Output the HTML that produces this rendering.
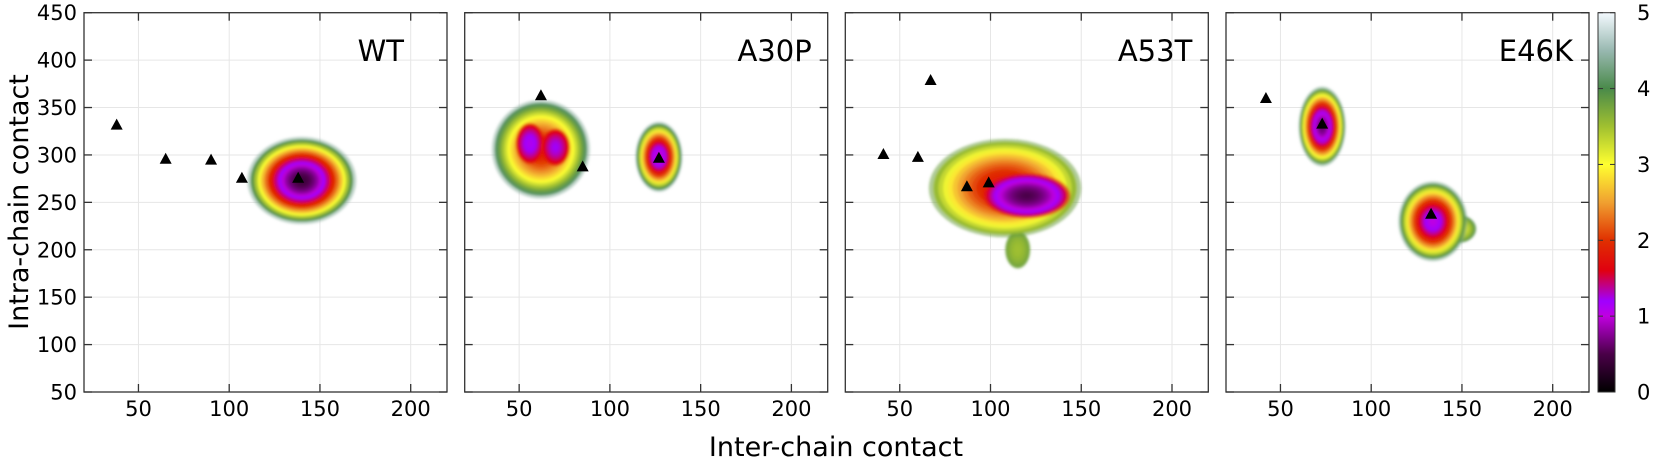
<!DOCTYPE html>
<html><head><meta charset="utf-8">
<style>
html,body{margin:0;padding:0;background:#fff;}
svg{display:block;font-family:"DejaVu Sans","Liberation Sans",sans-serif;}
</style></head>
<body>
<svg id="chart" width="1655" height="459" viewBox="0 0 1655 459" xmlns="http://www.w3.org/2000/svg">
<defs>
<filter id="soft" x="-20%" y="-20%" width="140%" height="140%"><feGaussianBlur stdDeviation="1.2"/></filter>
<linearGradient id="cmap" x1="0" y1="1" x2="0" y2="0">
<stop offset="0" stop-color="#000000"/>
<stop offset="0.1" stop-color="#4a0048"/>
<stop offset="0.2" stop-color="#c000e0"/>
<stop offset="0.24" stop-color="#a000ff"/>
<stop offset="0.32" stop-color="#e00010"/>
<stop offset="0.4" stop-color="#e03000"/>
<stop offset="0.5" stop-color="#f0a030"/>
<stop offset="0.6" stop-color="#ffff30"/>
<stop offset="0.7" stop-color="#a0c030"/>
<stop offset="0.8" stop-color="#4a8a4a"/>
<stop offset="0.9" stop-color="#98b8b0"/>
<stop offset="1" stop-color="#f4faff"/>
</linearGradient>
</defs>
<g id="plots"></g>
<text transform="translate(28,202) rotate(-90)" text-anchor="middle" font-size="27" fill="#000">Intra-chain contact</text>
<text x="836" y="456" text-anchor="middle" font-size="27" fill="#000">Inter-chain contact</text>
<g>
<rect x="1598" y="12.7" width="17" height="379.3" fill="url(#cmap)" stroke="#333" stroke-width="1"/>
<g id="cbticks"></g>
</g>
</svg>
<script>
// ---- data ----
const panelNames = ["WT", "A30P", "A53T", "E46K"];
const xTicks = [50, 100, 150, 200];
const yTicks = [50, 100, 150, 200, 250, 300, 350, 400, 450];
const cbTicks = [0, 1, 2, 3, 4, 5];
// density clusters per panel
const clusterPanel = [0, 1, 1, 1, 1, 2, 2, 2, 3, 3, 3];
const clusterCx =    [140, 62, 56, 70, 127, 115, 108, 120, 73, 148, 134];
const clusterCy =    [273, 306, 312, 308, 298, 200, 265, 257, 330, 222, 230];
const clusterRx =    [30, 27, 8, 8, 13, 7, 42, 24, 13, 10, 19];
const clusterRy =    [46, 52, 22, 20, 37, 20, 52, 24, 42, 15, 42];
const clusterEdge =  [4.4, 4.4, 1.8, 1.8, 4.4, 3.8, 3.8, 1.7, 4.3, 4.0, 4.3];
const clusterPeak =  [0.4, 1.8, 1.1, 1.2, 0.9, 3.5, 1.7, 0.5, 0.6, 3.0, 1.0];
// triangle markers
const triPanel = [0, 0, 0, 0, 0, 1, 1, 1, 2, 2, 2, 2, 2, 3, 3, 3];
const triX =     [38, 65, 90, 107, 138, 62, 85, 127, 41, 60, 67, 87, 99, 42, 73, 133];
const triY =     [332, 296, 295, 276, 276, 363, 288, 297, 301, 298, 379, 267, 271, 360, 333, 238];

// ---- layout ----
const NS = "http://www.w3.org/2000/svg";
const panelLeft = [84, 464.7, 845.3, 1226];
const panelW = 363, plotTop = 12.7, plotBottom = 392;
const xMin = 20, xMax = 220, yMin = 50, yMax = 450;
function xs(p, v) { return panelLeft[p] + (v - xMin) / (xMax - xMin) * panelW; }
function ys(v) { return plotBottom - (v - yMin) / (yMax - yMin) * (plotBottom - plotTop); }
function mk(tag, attrs, parent) { const e = document.createElementNS(NS, tag); for (const k in attrs) e.setAttribute(k, attrs[k]); parent.appendChild(e); return e; }

const cstops = [[0,[0,0,0]],[0.5,[74,0,72]],[1,[192,0,224]],[1.2,[160,0,255]],[1.6,[224,0,16]],[2,[224,48,0]],[2.5,[240,160,48]],[3,[255,255,48]],[3.5,[160,192,48]],[4,[74,138,74]],[4.5,[152,184,176]],[5,[244,250,255]]];
function cmap(v) {
  for (let i = 1; i < cstops.length; i++) {
    if (v <= cstops[i][0]) {
      const a = cstops[i-1], b = cstops[i], t = (v - a[0]) / (b[0] - a[0]);
      const c = a[1].map((x, j) => Math.round(x + (b[1][j] - x) * t));
      return "rgb(" + c.join(",") + ")";
    }
  }
  return "rgb(244,250,255)";
}

const plots = document.getElementById("plots");
for (let p = 0; p < 4; p++) {
  const g = mk("g", {}, plots);
  
  
  const L = panelLeft[p], R = L + panelW;
  for (const t of xTicks) {
    const l = mk("line", {x1: xs(p, t), x2: xs(p, t), y1: plotTop, y2: plotBottom, stroke: "#e6e6e6", "stroke-width": 1}, g);
    
    
  }
  for (const t of yTicks) {
    const l = mk("line", {x1: L, x2: R, y1: ys(t), y2: ys(t), stroke: "#e6e6e6", "stroke-width": 1}, g);
    
    
  }
  const cg = mk("g", {filter: "url(#soft)"}, g);
  
  
  for (let i = 0; i < clusterPanel.length; i++) {
    if (clusterPanel[i] !== p) continue;
    const N = 16;
    for (let k = 0; k < N; k++) {
      const s = 1 - k / N;
      const v = clusterPeak[i] + (clusterEdge[i] - clusterPeak[i]) * Math.pow(s, 2);
      const e = mk("ellipse", {cx: xs(p, clusterCx[i]), cy: ys(clusterCy[i]),
        rx: clusterRx[i] * s * panelW / (xMax - xMin), ry: clusterRy[i] * s * (plotBottom - plotTop) / (yMax - yMin),
        fill: cmap(v), "fill-opacity": k === 0 ? 0.55 : 1}, cg);
      
      
    }
  }
  for (let i = 0; i < triPanel.length; i++) {
    if (triPanel[i] !== p) continue;
    const x = xs(p, triX[i]), y = ys(triY[i]);
    const t = mk("polygon", {points: (x-6)+","+(y+5)+" "+(x+6)+","+(y+5)+" "+x+","+(y-6), fill: "#000"}, g);
    
    
  }
  const f = mk("rect", {x: L, y: plotTop, width: panelW, height: plotBottom - plotTop, fill: "none", stroke: "#333", "stroke-width": 1.3}, g);
  
  
  for (const t of xTicks) {
    mk("line", {x1: xs(p, t), x2: xs(p, t), y1: plotBottom, y2: plotBottom - 8, stroke: "#333", "stroke-width": 1.3}, g);
    mk("line", {x1: xs(p, t), x2: xs(p, t), y1: plotTop, y2: plotTop + 8, stroke: "#333", "stroke-width": 1.3}, g);
    const lb = mk("text", {x: xs(p, t), y: 416, "text-anchor": "middle", "font-size": 21, fill: "#000"}, g);
    lb.textContent = t;
    
    
  }
  for (const t of yTicks) {
    mk("line", {x1: L, x2: L + 8, y1: ys(t), y2: ys(t), stroke: "#333", "stroke-width": 1.3}, g);
    mk("line", {x1: R, x2: R - 8, y1: ys(t), y2: ys(t), stroke: "#333", "stroke-width": 1.3}, g);
    if (p === 0) {
      const lb = mk("text", {x: 77, y: ys(t) + 7.5, "text-anchor": "end", "font-size": 21, fill: "#000"}, g);
      lb.textContent = t;
      
      
    }
  }
  const title = mk("text", {x: p === 0 ? 404 : R - 16, y: 61, "text-anchor": "end", "font-size": 29, fill: "#000"}, g);
  title.textContent = panelNames[p];
  
  
}
const cbg = document.getElementById("cbticks");
for (const t of cbTicks) {
  const y = plotBottom - t / 5 * (plotBottom - plotTop);
  mk("line", {x1: 1598, x2: 1603, y1: y, y2: y, stroke: "#333"}, cbg);
  mk("line", {x1: 1615, x2: 1610, y1: y, y2: y, stroke: "#333"}, cbg);
  const lb = mk("text", {x: 1637, y: y + 7.5, "font-size": 21, fill: "#000"}, cbg);
  lb.textContent = t;
  
  
}
</script>
</body></html>
